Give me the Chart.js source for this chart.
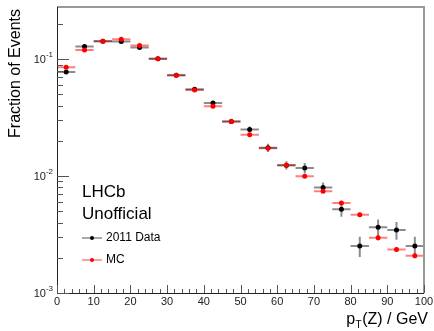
<!DOCTYPE html>
<html>
<head>
<meta charset="utf-8">
<script src="https://cdn.jsdelivr.net/npm/chart.js@4/dist/chart.umd.min.js"></script>
<style>
  html, body { margin: 0; padding: 0; background: #fff; }
  #wrap { width: 434px; height: 331px; }
</style>
</head>
<body>
<div id="wrap"><canvas id="c" width="434" height="331"></canvas></div>
<script>
// ── Dados ─────────────────────────────────────────────────────────────────
const BIN_CENTERS = [2.5, 7.5, 12.5, 17.5, 22.5, 27.5, 32.5, 37.5, 42.5, 47.5,
                     52.5, 57.5, 62.5, 67.5, 72.5, 77.5, 82.5, 87.5, 92.5, 97.5];
const BIN_HALF = 2.5;

const DATA_Y   = [0.0778, 0.1285, 0.1427, 0.142, 0.126, 0.101, 0.0729, 0.0553, 0.0422, 0.0294,
                  0.0251, 0.0175, 0.0124, 0.01175, 0.0080, 0.0052, 0.00253, 0.00365, 0.00346, 0.00253];
const DATA_ERR = [0.0023, 0.004, 0.003, 0.003, 0.004, 0.003, 0.002, 0.0022, 0.0017, 0.0015,
                  0.0015, 0.0014, 0.0010, 0.0012, 0.0008, 0.0007, 0.0005, 0.0006, 0.0006, 0.0005];

const MC_Y     = [0.0854, 0.120, 0.1427, 0.1485, 0.131, 0.101, 0.0729, 0.0545, 0.0397, 0.0294,
                  0.0226, 0.0173, 0.0124, 0.0100, 0.00743, 0.0059, 0.00467, 0.00297, 0.00236, 0.00208];
const MC_ERR   = [0.0008, 0.001, 0.001, 0.001, 0.001, 0.0008, 0.0006, 0.0005, 0.0004, 0.0003,
                  0.0003, 0.0003, 0.0003, 0.0003, 0.0002, 0.0002, 0.0002, 0.00015, 0.00012, 0.0001];

const X_TICKS = [0, 10, 20, 30, 40, 50, 60, 70, 80, 90, 100];
const Y_DECADES = [0.001, 0.01, 0.1];
const Y_EXPONENTS = ["-3", "-2", "-1"];
const Y_MIN = 0.001, Y_MAX = 0.28;

const SERIES = [
    { label: "2011 Data", y: DATA_Y, err: DATA_ERR, color: "#000", bar: "rgba(0,0,0,0.45)" },
    { label: "MC",        y: MC_Y,   err: MC_ERR,   color: "#f00", bar: "rgba(255,0,0,0.5)" }
];

const FONT = '"Liberation Sans", Arial, sans-serif';

// ── Plugin: barras de erro ─────────────────────────────────────────────────
const errorBars = {
    id: "errorBars",
    beforeDatasetsDraw(chart) {
        const ctx = chart.ctx, xs = chart.scales.x, ys = chart.scales.y;
        ctx.save();
        ctx.lineWidth = 2;
        // MC primeiro, dados por cima
        [1, 0].forEach(si => {
            const s = SERIES[si];
            ctx.strokeStyle = s.bar;
            BIN_CENTERS.forEach((c, i) => {
                const y = ys.getPixelForValue(s.y[i]);
                const x = xs.getPixelForValue(c);
                ctx.beginPath();
                ctx.moveTo(xs.getPixelForValue(c - BIN_HALF), y);
                ctx.lineTo(xs.getPixelForValue(c + BIN_HALF), y);
                ctx.moveTo(x, ys.getPixelForValue(s.y[i] + s.err[i]));
                ctx.lineTo(x, ys.getPixelForValue(Math.max(s.y[i] - s.err[i], Y_MIN)));
                ctx.stroke();
            });
        });
        ctx.restore();
    }
};

// ── Plugin: moldura, ticks, rótulos (estilo ROOT) ─────────────────────────
const frame = {
    id: "frame",
    afterDraw(chart) {
        const ctx = chart.ctx, xs = chart.scales.x, ys = chart.scales.y;
        const { left, right, top, bottom } = chart.chartArea;
        ctx.save();

        // borda cinza topo/direita
        ctx.strokeStyle = "#999";
        ctx.lineWidth = 2;
        ctx.beginPath();
        ctx.moveTo(left, top);
        ctx.lineTo(right, top);
        ctx.lineTo(right, bottom);
        ctx.stroke();

        // eixos
        ctx.strokeStyle = "#222";
        ctx.lineWidth = 1;
        ctx.beginPath();
        ctx.moveTo(left + 0.5, top);
        ctx.lineTo(left + 0.5, bottom + 0.5);
        ctx.lineTo(right, bottom + 0.5);
        ctx.stroke();

        // ticks x
        ctx.strokeStyle = "#555";
        ctx.beginPath();
        for (let v = 0; v <= 100; v += 2) {
            const x = Math.round(xs.getPixelForValue(v)) + 0.5;
            const len = v % 10 === 0 ? 8 : 4;
            ctx.moveTo(x, bottom);
            ctx.lineTo(x, bottom - len);
        }
        // ticks y
        Y_DECADES.forEach(d => {
            for (let m = 1; m <= 9; m++) {
                const v = d * m;
                if (v > Y_MAX) break;
                const y = Math.round(ys.getPixelForValue(v)) + 0.5;
                ctx.moveTo(left, y);
                ctx.lineTo(left + (m === 1 ? 12 : 6), y);
            }
        });
        ctx.stroke();

        // rótulos x
        ctx.fillStyle = "#222";
        ctx.font = "11px " + FONT;
        ctx.textAlign = "center";
        ctx.textBaseline = "middle";
        X_TICKS.forEach(v => ctx.fillText(String(v), xs.getPixelForValue(v), bottom + 9));

        // rótulos y: 10^n
        Y_DECADES.forEach((d, i) => {
            const y = ys.getPixelForValue(d);
            ctx.font = "8px " + FONT;
            const ew = ctx.measureText(Y_EXPONENTS[i]).width;
            ctx.textAlign = "left";
            ctx.textBaseline = "middle";
            ctx.fillText(Y_EXPONENTS[i], 53 - ew, y - 4);
            ctx.font = "11px " + FONT;
            ctx.textAlign = "right";
            ctx.fillText("10", 53 - ew, y + 1);
        });

        // título y
        ctx.fillStyle = "#000";
        ctx.font = "16px " + FONT;
        ctx.save();
        ctx.translate(16, 9);
        ctx.rotate(-Math.PI / 2);
        ctx.textAlign = "right";
        ctx.textBaseline = "middle";
        ctx.fillText("Fraction of Events", 0, 0);
        ctx.restore();

        // título x: p_T(Z) / GeV
        ctx.textAlign = "left";
        ctx.textBaseline = "alphabetic";
        ctx.font = "16px " + FONT;
        const tail = "(Z) / GeV";
        const wTail = ctx.measureText(tail).width;
        const wP = ctx.measureText("p").width;
        ctx.font = "10px " + FONT;
        const wT = ctx.measureText("T").width;
        let x0 = 428 - wTail - wT - 1 - wP;
        ctx.font = "16px " + FONT;
        ctx.fillText("p", x0, 324);
        ctx.font = "10px " + FONT;
        ctx.fillText("T", x0 + wP + 0.5, 328);
        ctx.font = "16px " + FONT;
        ctx.fillText(tail, x0 + wP + wT + 1, 324);

        // legenda
        ctx.font = "17px " + FONT;
        ctx.fillText("LHCb", 82, 197);
        ctx.fillText("Unofficial", 82, 219);
        ctx.font = "12px " + FONT;
        ctx.textBaseline = "middle";
        const legY = [238, 260];
        SERIES.forEach((s, i) => {
            ctx.strokeStyle = s.bar;
            ctx.lineWidth = 1.5;
            ctx.beginPath();
            ctx.moveTo(82, legY[i]);
            ctx.lineTo(102, legY[i]);
            ctx.stroke();
            ctx.fillStyle = s.color;
            ctx.beginPath();
            ctx.arc(92, legY[i], 2, 0, Math.PI * 2);
            ctx.fill();
            ctx.fillStyle = "#000";
            ctx.fillText(s.label, 106, legY[i]);
        });

        ctx.restore();
    }
};

// ── Chart ─────────────────────────────────────────────────────────────────
function toPoints(ys) {
    return BIN_CENTERS.map((x, i) => ({ x, y: ys[i] }));
}

new Chart(document.getElementById("c"), {
    type: "scatter",
    data: {
        datasets: [
            {
                label: SERIES[1].label,
                data: toPoints(MC_Y),
                backgroundColor: SERIES[1].color,
                borderWidth: 0,
                pointRadius: 2.5
            },
            {
                label: SERIES[0].label,
                data: toPoints(DATA_Y),
                backgroundColor: SERIES[0].color,
                borderWidth: 0,
                pointRadius: 2.5
            }
        ]
    },
    options: {
        responsive: false,
        animation: false,
        devicePixelRatio: 1,
        layout: { padding: { left: 57, right: 10, top: 7, bottom: 38 } },
        plugins: { legend: { display: false }, tooltip: { enabled: false } },
        scales: {
            x: { type: "linear", min: 0, max: 100, display: false },
            y: { type: "logarithmic", min: Y_MIN, max: Y_MAX, display: false }
        }
    },
    plugins: [errorBars, frame]
});
</script>
</body>
</html>
